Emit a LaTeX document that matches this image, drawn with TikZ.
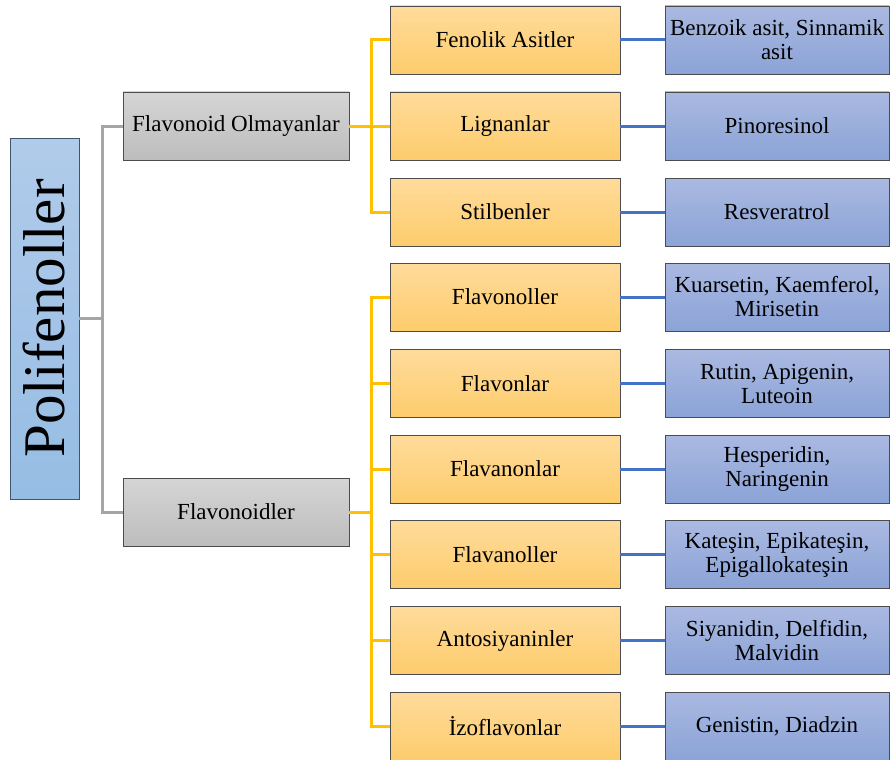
\documentclass[tikz,border=0pt]{standalone}
\usepackage{fontspec}
\setmainfont{Liberation Serif}
\usetikzlibrary{math}

\definecolor{turA}{HTML}{FFDB9B}
\definecolor{turB}{HTML}{FDCC6C}
\definecolor{mavA}{HTML}{AAB9E1}
\definecolor{mavB}{HTML}{8BA3D7}
\definecolor{griA}{HTML}{D5D5D5}
\definecolor{griB}{HTML}{BDBDBD}
\definecolor{kokA}{HTML}{B1CBEA}
\definecolor{kokB}{HTML}{96BDE4}
\definecolor{kokKenar}{HTML}{3E5570}
\definecolor{sariCizgi}{HTML}{FFC000}
\definecolor{maviCizgi}{HTML}{4472C4}
\definecolor{griCizgi}{HTML}{A5A5A5}

\tikzset{
  kutu/.style={draw=black!70, line width=0.8pt, minimum height=68pt, align=center,
    inner sep=2pt, font=\rmfamily\fontsize{23}{24}\selectfont},
  grikutu/.style={kutu, top color=griA, bottom color=griB, minimum width=226pt},
  turkutu/.style={kutu, top color=turA, bottom color=turB, minimum width=230pt},
  mavikutu/.style={kutu, top color=mavA, bottom color=mavB, minimum width=224pt},
  gribag/.style={draw=griCizgi, line width=3pt},
  saribag/.style={draw=sariCizgi, line width=3pt},
  mavibag/.style={draw=maviCizgi, line width=3pt},
}

\begin{document}
\begin{tikzpicture}[x=1pt, y=-1pt]
\useasboundingbox (0,0) rectangle (892,760);

% sutun konumlari
\tikzmath{ \xg = 236; \xt = 505; \xm = 777; \xs = 371; \xk = 102; }

% kok
\node[draw=kokKenar, line width=0.8pt, top color=kokA, bottom color=kokB, rotate=90,
  minimum width=361pt, minimum height=69pt, inner sep=0pt,
  font=\rmfamily\fontsize{59}{59}\selectfont]
  (poli) at (44.5, 318.5) {Polifenoller};

% ikinci seviye
\node[grikutu] (olm) at (\xg, 126) {Flavonoid Olmayanlar};
\node[grikutu] (flv) at (\xg, 512) {Flavonoidler};

% ucuncu seviye
\node[turkutu] (fen) at (\xt, 40) {Fenolik Asitler};
\node[turkutu] (lig) at (\xt, 126) {Lignanlar};
\node[turkutu] (sti) at (\xt, 212) {Stilbenler};
\node[turkutu] (fol) at (\xt, 297) {Flavonoller};
\node[turkutu] (fon) at (\xt, 383.5) {Flavonlar};
\node[turkutu] (fan) at (\xt, 469) {Flavanonlar};
\node[turkutu] (fal) at (\xt, 554.5) {Flavanoller};
\node[turkutu] (ant) at (\xt, 640.5) {Antosiyaninler};
\node[turkutu] (izo) at (\xt, 726) {İzoflavonlar};

% ornekler
\node[mavikutu] (m1) at (\xm, 40) {Benzoik asit, Sinnamik\\asit};
\node[mavikutu] (m2) at (\xm, 126) {Pinoresinol};
\node[mavikutu] (m3) at (\xm, 212) {Resveratrol};
\node[mavikutu] (m4) at (\xm, 297) {Kuarsetin, Kaemferol,\\Mirisetin};
\node[mavikutu] (m5) at (\xm, 383.5) {Rutin, Apigenin,\\Luteoin};
\node[mavikutu] (m6) at (\xm, 469) {Hesperidin,\\Naringenin};
\node[mavikutu] (m7) at (\xm, 554.5) {Kateşin, Epikateşin,\\Epigallokateşin};
\node[mavikutu] (m8) at (\xm, 640.5) {Siyanidin, Delfidin,\\Malvidin};
\node[mavikutu] (m9) at (\xm, 726) {Genistin, Diadzin};

% gri baglar
\coordinate (pk) at (\xk, 318.5);
\draw[gribag] (poli.south) -- (pk);
\draw[gribag] (pk) |- (olm.west);
\draw[gribag] (pk) |- (flv.west);

% sari baglar
\coordinate (s1) at (\xs, 126);
\draw[saribag] (olm.east) -- (s1);
\draw[saribag] (s1) |- (fen.west);
\draw[saribag] (s1) |- (lig.west);
\draw[saribag] (s1) |- (sti.west);

\coordinate (s2) at (\xs, 512);
\draw[saribag] (flv.east) -- (s2);
\draw[saribag] (s2) |- (fol.west);
\draw[saribag] (s2) |- (fon.west);
\draw[saribag] (s2) |- (fan.west);
\draw[saribag] (s2) |- (fal.west);
\draw[saribag] (s2) |- (ant.west);
\draw[saribag] (s2) |- (izo.west);

% mavi baglar
\draw[mavibag] (fen.east) -- (m1.west);
\draw[mavibag] (lig.east) -- (m2.west);
\draw[mavibag] (sti.east) -- (m3.west);
\draw[mavibag] (fol.east) -- (m4.west);
\draw[mavibag] (fon.east) -- (m5.west);
\draw[mavibag] (fan.east) -- (m6.west);
\draw[mavibag] (fal.east) -- (m7.west);
\draw[mavibag] (ant.east) -- (m8.west);
\draw[mavibag] (izo.east) -- (m9.west);

\end{tikzpicture}
\end{document}
